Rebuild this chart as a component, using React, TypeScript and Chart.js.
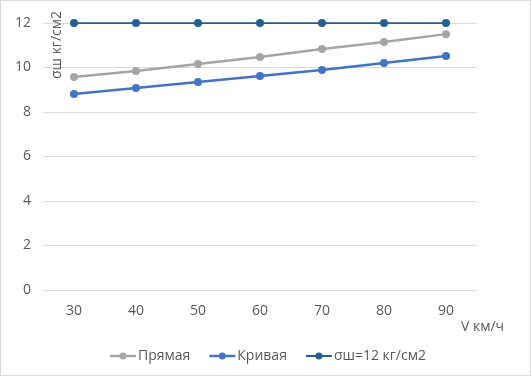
import React, { useEffect, useRef } from "react";
import { Chart, registerables } from "chart.js";

Chart.register(...registerables);

const categories = ["30", "40", "50", "60", "70", "80", "90"];
const pryamaya = [9.57, 9.84, 10.16, 10.47, 10.83, 11.15, 11.5];
const krivaya = [8.81, 9.08, 9.35, 9.62, 9.89, 10.2, 10.52];
const limit = [12, 12, 12, 12, 12, 12, 12];
const seriesNames = ["Прямая", "Кривая", "σш=12 кг/см2"];
const seriesColors = ["#a5a5a5", "#4472c4", "#255e91"];
const yTitle = "σш кг/см2";
const xTitle = "V км/ч";

const FONT = "'Open Sans', 'Noto Sans', sans-serif";
const TEXT = "#595959";

const overlay = {
  id: "overlay",
  afterDraw(chart: any) {
    const ctx = chart.ctx;
    ctx.save();
    ctx.fillStyle = TEXT;
    ctx.font = `14px ${FONT}`;
    // y title rotated
    ctx.save();
    ctx.translate(56, 44);
    ctx.rotate(-Math.PI / 2);
    ctx.textAlign = "center";
    ctx.textBaseline = "middle";
    ctx.fillText(yTitle, 0, 0);
    ctx.restore();
    // x title
    ctx.textAlign = "left";
    ctx.textBaseline = "middle";
    ctx.fillText(xTitle, 460, 326);
    // legend
    const ly = 355;
    let x = 109;
    seriesNames.forEach((name, i) => {
      ctx.strokeStyle = seriesColors[i];
      ctx.lineWidth = i === 2 ? 2 : 2.5;
      ctx.beginPath();
      ctx.moveTo(x, ly);
      ctx.lineTo(x + 26, ly);
      ctx.stroke();
      ctx.fillStyle = seriesColors[i];
      ctx.beginPath();
      ctx.arc(x + 13, ly, 3.5, 0, Math.PI * 2);
      ctx.fill();
      ctx.fillStyle = TEXT;
      ctx.fillText(name, x + 28, ly);
      x += 28 + ctx.measureText(name).width + 19;
    });
    ctx.restore();
  },
};

export default function App() {
  const ref = useRef<HTMLCanvasElement>(null);
  useEffect(() => {
    const chart = new Chart(ref.current!, {
      type: "line",
      data: {
        labels: categories,
        datasets: [
          { label: seriesNames[0], data: pryamaya, borderColor: seriesColors[0], backgroundColor: seriesColors[0], borderWidth: 2.5, pointRadius: 4, pointBorderWidth: 0, clip: false },
          { label: seriesNames[1], data: krivaya, borderColor: seriesColors[1], backgroundColor: seriesColors[1], borderWidth: 2.5, pointRadius: 4, pointBorderWidth: 0, clip: false },
          { label: seriesNames[2], data: limit, borderColor: seriesColors[2], backgroundColor: seriesColors[2], borderWidth: 1.75, pointRadius: 4, pointBorderWidth: 0, clip: false },
        ],
      },
      options: {
        animation: false,
        responsive: false,
        layout: { padding: { top: 22, right: 53, left: 0, bottom: 0 } },
        plugins: { legend: { display: false }, tooltip: { enabled: false } },
        scales: {
          x: {
            offset: true,
            grid: { display: false, drawTicks: false },
            border: { display: false },
            ticks: { color: TEXT, font: { family: FONT, size: 14 }, padding: 13, maxRotation: 0 },
            afterFit: (s: any) => { s.height = 85; },
          },
          y: {
            min: 0,
            max: 12,
            grid: { color: "#d9d9d9", lineWidth: 1, drawTicks: false },
            border: { display: false },
            ticks: { stepSize: 2, color: TEXT, font: { family: FONT, size: 14 }, padding: 12 },
            afterFit: (s: any) => { s.width = 42; },
          },
        },
      },
      plugins: [overlay],
    });
    return () => chart.destroy();
  }, []);
  return (
    <div style={{ position: "absolute", left: 0, top: 0, width: 531, height: 376, boxSizing: "border-box", border: "1px solid #d9d9d9", background: "#fff" }}>
      <canvas ref={ref} width={529} height={374} style={{ display: "block" }} />
    </div>
  );
}
